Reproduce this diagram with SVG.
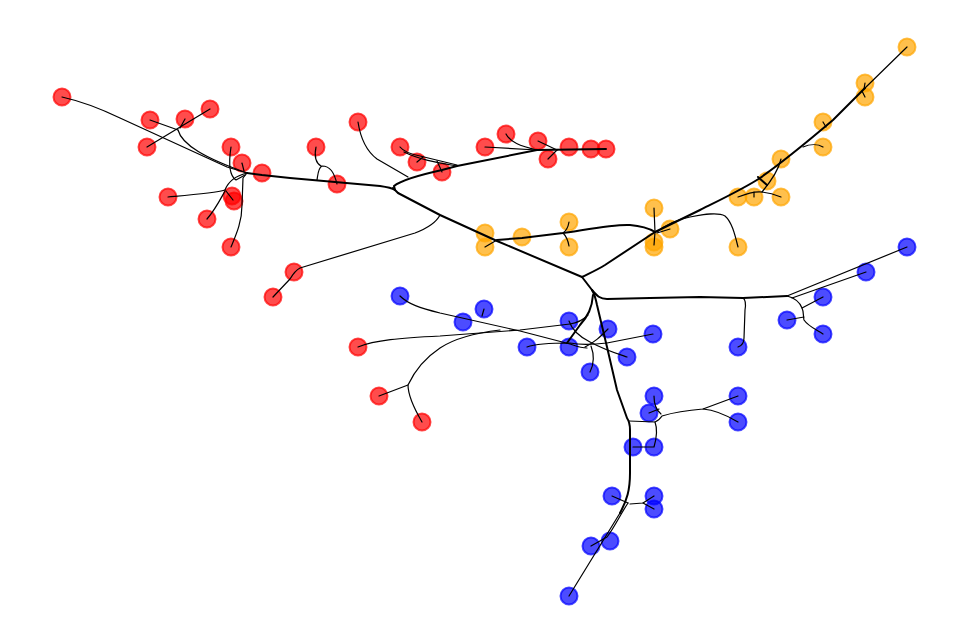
<svg xmlns="http://www.w3.org/2000/svg" width="969" height="644" viewBox="0 0 969 644">
<style>
.n circle{stroke-width:2;fill-opacity:0.7;stroke-opacity:0.7}
.r circle{fill:#ff0000;stroke:#ff0000}
.o circle{fill:#ffa500;stroke:#ffa500}
.b circle{fill:#0000ff;stroke:#0000ff}
.e path{fill:none;stroke:#000;stroke-width:1.2;stroke-linecap:round;stroke-linejoin:round}
.e path.t{stroke-width:2}
</style>
<rect width="969" height="644" fill="#fff"/>
<g id="nodes">
<g id="r1" class="n r"><circle cx="62" cy="97" r="8.5"/></g>
<g id="r2" class="n r"><circle cx="150" cy="120" r="8.5"/></g>
<g id="r3" class="n r"><circle cx="185" cy="119" r="8.5"/></g>
<g id="r4" class="n r"><circle cx="210" cy="109" r="8.5"/></g>
<g id="r5" class="n r"><circle cx="147" cy="147" r="8.5"/></g>
<g id="r6" class="n r"><circle cx="231" cy="147" r="8.5"/></g>
<g id="r7" class="n r"><circle cx="242" cy="163" r="8.5"/></g>
<g id="r8" class="n r"><circle cx="262" cy="173" r="8.5"/></g>
<g id="r9" class="n r"><circle cx="168" cy="197" r="8.5"/></g>
<g id="r10" class="n r"><circle cx="232" cy="196" r="8.5"/></g>
<g id="r11" class="n r"><circle cx="234" cy="201" r="8.5"/></g>
<g id="r12" class="n r"><circle cx="207" cy="219" r="8.5"/></g>
<g id="r13" class="n r"><circle cx="231" cy="247" r="8.5"/></g>
<g id="r14" class="n r"><circle cx="294" cy="272" r="8.5"/></g>
<g id="r15" class="n r"><circle cx="273" cy="297" r="8.5"/></g>
<g id="r16" class="n r"><circle cx="316" cy="147" r="8.5"/></g>
<g id="r17" class="n r"><circle cx="337" cy="184" r="8.5"/></g>
<g id="r18" class="n r"><circle cx="358" cy="122" r="8.5"/></g>
<g id="r19" class="n r"><circle cx="400" cy="147" r="8.5"/></g>
<g id="r20" class="n r"><circle cx="417" cy="162" r="8.5"/></g>
<g id="r21" class="n r"><circle cx="442" cy="172" r="8.5"/></g>
<g id="r22" class="n r"><circle cx="485" cy="147" r="8.5"/></g>
<g id="r23" class="n r"><circle cx="506" cy="134" r="8.5"/></g>
<g id="r24" class="n r"><circle cx="538" cy="141" r="8.5"/></g>
<g id="r25" class="n r"><circle cx="548" cy="159" r="8.5"/></g>
<g id="r26" class="n r"><circle cx="569" cy="147" r="8.5"/></g>
<g id="r27" class="n r"><circle cx="591" cy="149" r="8.5"/></g>
<g id="r28" class="n r"><circle cx="606" cy="149" r="8.5"/></g>
<g id="r29" class="n r"><circle cx="358" cy="347" r="8.5"/></g>
<g id="r30" class="n r"><circle cx="379" cy="396" r="8.5"/></g>
<g id="r31" class="n r"><circle cx="422" cy="422" r="8.5"/></g>
<g id="o1" class="n o"><circle cx="907" cy="47" r="8.5"/></g>
<g id="o2" class="n o"><circle cx="865" cy="83" r="8.5"/></g>
<g id="o3" class="n o"><circle cx="865" cy="97" r="8.5"/></g>
<g id="o4" class="n o"><circle cx="823" cy="122" r="8.5"/></g>
<g id="o5" class="n o"><circle cx="823" cy="147" r="8.5"/></g>
<g id="o6" class="n o"><circle cx="781" cy="159" r="8.5"/></g>
<g id="o7" class="n o"><circle cx="767" cy="181" r="8.5"/></g>
<g id="o8" class="n o"><circle cx="738" cy="197" r="8.5"/></g>
<g id="o9" class="n o"><circle cx="754" cy="197" r="8.5"/></g>
<g id="o10" class="n o"><circle cx="781" cy="197" r="8.5"/></g>
<g id="o11" class="n o"><circle cx="738" cy="247" r="8.5"/></g>
<g id="o12" class="n o"><circle cx="485" cy="233" r="8.5"/></g>
<g id="o13" class="n o"><circle cx="485" cy="247" r="8.5"/></g>
<g id="o14" class="n o"><circle cx="522" cy="237" r="8.5"/></g>
<g id="o15" class="n o"><circle cx="569" cy="222" r="8.5"/></g>
<g id="o16" class="n o"><circle cx="569" cy="247" r="8.5"/></g>
<g id="o17" class="n o"><circle cx="654" cy="208" r="8.5"/></g>
<g id="o18" class="n o"><circle cx="670" cy="229" r="8.5"/></g>
<g id="o19" class="n o"><circle cx="654" cy="242" r="8.5"/></g>
<g id="o20" class="n o"><circle cx="654" cy="247" r="8.5"/></g>
<g id="b1" class="n b"><circle cx="400" cy="296" r="8.5"/></g>
<g id="b2" class="n b"><circle cx="484" cy="309" r="8.5"/></g>
<g id="b3" class="n b"><circle cx="463" cy="322" r="8.5"/></g>
<g id="b4" class="n b"><circle cx="569" cy="321" r="8.5"/></g>
<g id="b5" class="n b"><circle cx="608" cy="329" r="8.5"/></g>
<g id="b6" class="n b"><circle cx="653" cy="334" r="8.5"/></g>
<g id="b7" class="n b"><circle cx="527" cy="347" r="8.5"/></g>
<g id="b8" class="n b"><circle cx="569" cy="347" r="8.5"/></g>
<g id="b9" class="n b"><circle cx="627" cy="357" r="8.5"/></g>
<g id="b10" class="n b"><circle cx="590" cy="372" r="8.5"/></g>
<g id="b11" class="n b"><circle cx="907" cy="247" r="8.5"/></g>
<g id="b12" class="n b"><circle cx="866" cy="272" r="8.5"/></g>
<g id="b13" class="n b"><circle cx="823" cy="297" r="8.5"/></g>
<g id="b14" class="n b"><circle cx="787" cy="320" r="8.5"/></g>
<g id="b15" class="n b"><circle cx="823" cy="334" r="8.5"/></g>
<g id="b16" class="n b"><circle cx="738" cy="347" r="8.5"/></g>
<g id="b17" class="n b"><circle cx="654" cy="396" r="8.5"/></g>
<g id="b18" class="n b"><circle cx="649" cy="413" r="8.5"/></g>
<g id="b19" class="n b"><circle cx="738" cy="396" r="8.5"/></g>
<g id="b20" class="n b"><circle cx="738" cy="422" r="8.5"/></g>
<g id="b21" class="n b"><circle cx="633" cy="447" r="8.5"/></g>
<g id="b22" class="n b"><circle cx="654" cy="447" r="8.5"/></g>
<g id="b23" class="n b"><circle cx="612" cy="496" r="8.5"/></g>
<g id="b24" class="n b"><circle cx="654" cy="496" r="8.5"/></g>
<g id="b25" class="n b"><circle cx="654" cy="509" r="8.5"/></g>
<g id="b26" class="n b"><circle cx="610" cy="541" r="8.5"/></g>
<g id="b27" class="n b"><circle cx="591" cy="546" r="8.5"/></g>
<g id="b28" class="n b"><circle cx="569" cy="596" r="8.5"/></g>
</g>
<g id="connectors" class="e">
<path d="M62,97 C80,101 95,106 120,118 L227,167 L247,173"/>
<path d="M147,147 L210,109"/>
<path d="M150,120 L178,130"/>
<path d="M185,119 L180,128"/>
<path d="M178,130 C182,145 205,158 247,173"/>
<path d="M231,147 C229,160 228,175 236,180 L245,175"/>
<path d="M242,163 L244,171"/>
<path d="M168,197 C190,195 215,193 225,190"/>
<path d="M225,190 C228,182 235,176 247,173"/>
<path d="M233,200 L226,191"/>
<path d="M207,219 C215,210 220,200 225,191"/>
<path d="M231,247 C236,235 242,222 242,205 L243,178 L247,173"/>
<path class="t" d="M247,173 L262,175 L290,178 L380,186 C387,187 392,188 395,190"/>
<path class="t" d="M393,188 L398,193 L440,215 L497,241 L582,277"/>
<path class="t" d="M395,190 L394,186 C400,181 415,176 442,170 L457,166 L537,150 L606,149"/>
<path d="M316,147 C314,157 316,163 321,166"/>
<path d="M317,180 C318,174 318,168 322,166 C330,166 334,172 337,184"/>
<path d="M358,122 C360,135 365,150 377,159 L408,177"/>
<path d="M400,147 C404,152 410,154 420,156 L457,165"/>
<path d="M404,152 C420,160 440,163 457,166"/>
<path d="M417,162 L423,157"/>
<path d="M442,172 L437,161"/>
<path d="M485,147 L537,150"/>
<path d="M506,134 C510,142 520,146 537,150"/>
<path d="M538,141 L557,150"/>
<path d="M548,159 L557,150"/>
<path d="M440,215 C436,223 428,228 415,233 L300,268 C296,270 293,274 290,279 L273,297"/>
<path class="t" d="M582,277 C590,273 597,270 605,265 L655,232 L700,210 C720,200 745,188 760,178 C780,164 800,148 833,120 L865,88"/>
<path d="M865,88 L907,47"/>
<path class="t" d="M497,240 L522,238 L563,233 C590,229 615,224 630,225 C642,226 650,229 655,232"/>
<path d="M485,247 L497,240"/>
<path d="M569,222 C568,228 566,231 563,233 C566,236 568,240 569,246"/>
<path d="M654,208 L655,232"/>
<path d="M654,245 L655,232"/>
<path d="M670,229 L657,233"/>
<path d="M657,232 C665,225 675,220 690,217 C705,214 718,212 725,216 C732,222 735,235 738,247"/>
<path d="M865,83 L864,89"/>
<path d="M865,97 L862,91"/>
<path d="M823,122 L826,127"/>
<path d="M823,147 C818,144 810,144 803,147"/>
<path d="M781,159 C779,168 772,180 762,192"/>
<path d="M738,197 C748,193 755,191 762,192 C770,193 776,195 781,197"/>
<path d="M754,197 L754,192"/>
<path class="t" d="M758,177 L767,185"/>
<path class="t" d="M592,290 C597,296 600,299 607,299 L650,298 L700,297 L743,298 L787,296"/>
<path d="M743,298 C746,300 746,304 745,310 L744,338 C744,343 741,346 738,347"/>
<path d="M787,296 L907,247"/>
<path d="M792,298 L866,272"/>
<path d="M787,296 C795,298 800,303 802,308 C804,312 803,316 804,320 C808,326 815,329 823,334"/>
<path d="M823,297 L802,308"/>
<path d="M787,320 L804,317"/>
<path class="t" d="M582,277 L592,290"/>
<path class="t" d="M592,290 C595,295 596,300 597,305 L607,347 L617,390 L627,418 C629,421 630,424 630,430 L630,473 C630,490 627,500 620,513"/>
<path d="M620,513 L569,596"/>
<path d="M629,421 L655,422 C658,421 660,419 662,416 C675,412 690,410 703,409 L738,396"/>
<path d="M703,409 C715,410 728,416 738,422"/>
<path d="M654,396 C654,404 656,410 661,414"/>
<path d="M649,413 L659,409"/>
<path d="M633,447 L654,447 C656,440 658,430 655,422"/>
<path d="M612,496 L628,503"/>
<path d="M654,496 L643,503 L630,504"/>
<path d="M654,509 L643,503"/>
<path d="M628,503 C620,515 614,528 607,537 L591,546"/>
<path class="t" d="M593,295 C592,308 588,316 580,325 L567,343"/>
<path d="M358,347 C375,340 400,338 440,336 L520,330 L570,324 C578,323 583,320 588,315"/>
<path d="M379,396 L408,385 C415,370 425,358 440,348 C455,338 475,333 500,330"/>
<path d="M422,422 C415,410 408,395 408,385"/>
<path d="M400,296 C408,304 420,308 440,313 L520,331 L570,344 C576,346 581,348 587,348"/>
<path d="M484,309 L482,316"/>
<path d="M527,347 C535,344 545,343 570,343 C580,345 590,345 607,343 L653,334"/>
<path d="M569,321 C572,330 580,337 590,342 C605,350 615,353 627,357"/>
<path d="M608,329 C600,337 595,342 585,347"/>
<path d="M590,372 C594,364 594,354 591,346"/>
</g>
</svg>
